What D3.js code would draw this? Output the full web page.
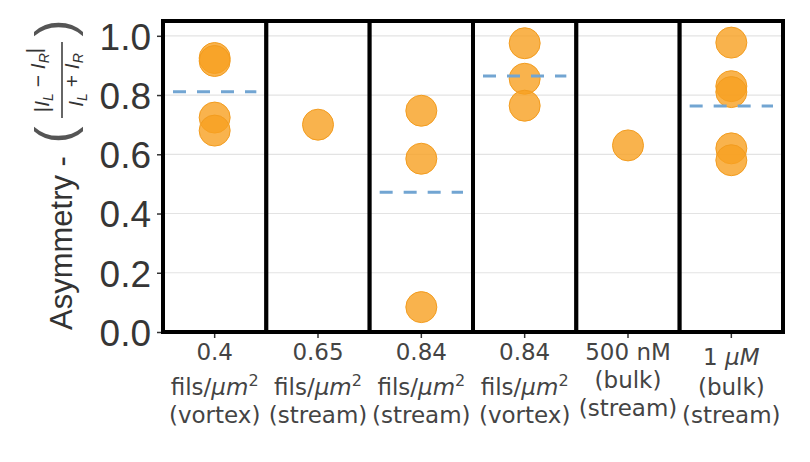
<!DOCTYPE html>
<html>
<head>
<meta charset="utf-8">
<script src="https://cdn.jsdelivr.net/npm/d3@7"></script>
<style>
  body { margin: 0; background: #fff; }
</style>
</head>
<body>
<div id="chart"></div>
<script>
//	Data: one group per panel
var groups = ["g1", "g2", "g3", "g4", "g5", "g6"];

var asymmetry = [
    [0.925, 0.915, 0.724, 0.68],
    [0.70],
    [0.747, 0.585, 0.084],
    [0.975, 0.855, 0.764],
    [0.63],
    [0.977, 0.83, 0.81, 0.62, 0.58]
];

var yTicks = [0, 0.2, 0.4, 0.6, 0.8, 1.0];

//	Label lines; each line is a list of [text, style] pieces
var labelLines = [
    [[["0.4", ""]], [["fils/", ""], ["μm", "it"], ["2", "sup"]], [["(vortex)", ""]]],
    [[["0.65", ""]], [["fils/", ""], ["μm", "it"], ["2", "sup"]], [["(stream)", ""]]],
    [[["0.84", ""]], [["fils/", ""], ["μm", "it"], ["2", "sup"]], [["(stream)", ""]]],
    [[["0.84", ""]], [["fils/", ""], ["μm", "it"], ["2", "sup"]], [["(vortex)", ""]]],
    [[["500 nM", ""]], [["(bulk)", ""]], [["(stream)", ""]]],
    [[["1 ", ""], ["μM", "it"]], [["(bulk)", ""]], [["(stream)", ""]]]
];

//	Baselines of the three label lines, per panel
var labelBaselines = [
    [360, 395, 423], [360, 395, 423], [360, 395, 423], [360, 395, 423],
    [360, 388, 416], [365, 395, 423]
];

var width = 810, height = 462;

var svg = d3.select("#chart")
    .append("svg")
    .attr("width", width)
    .attr("height", height);

var x = d3.scaleBand()
    .domain(groups)
    .range([163, 783])
    .paddingInner(0)
    .paddingOuter(0);

var y = d3.scaleLinear()
    .domain([0, 1.05])
    .range([332, 21]);

//	Panels
var panel = svg.append("g").selectAll(".panel")
    .data(groups)
    .enter().append("g")
    .attr("class", "panel")
    .attr("transform", function(d) { return "translate(" + x(d) + ",0)"; });

panel.append("rect")
    .attr("x", 0)
    .attr("y", y.range()[1])
    .attr("width", x.bandwidth())
    .attr("height", y.range()[0] - y.range()[1])
    .attr("fill", "#fff");

//	Horizontal gridlines
panel.selectAll(".grid")
    .data(yTicks)
    .enter().append("line")
    .attr("x1", 0)
    .attr("x2", x.bandwidth())
    .attr("y1", function(d) { return y(d); })
    .attr("y2", function(d) { return y(d); })
    .style("stroke", "#e3e3e3")
    .style("stroke-width", 1.2);

//	Points
panel.each(function(g, i) {
    var p = d3.select(this);
    var cx = x.bandwidth() / 2;

    p.selectAll("circle")
        .data(asymmetry[i])
        .enter().append("circle")
        .attr("cx", cx)
        .attr("cy", function(d) { return y(d); })
        .attr("r", 15.5)
        .attr("fill", "#f7a021")
        .attr("fill-opacity", 0.8)
        .style("stroke", "#f39c1e")
        .style("stroke-width", 1);

    //	Mean line only where there is more than one point
    if (asymmetry[i].length > 1) {
        var m = d3.mean(asymmetry[i]);
        p.append("line")
            .attr("x1", 10)
            .attr("x2", x.bandwidth() - 10)
            .attr("y1", y(m))
            .attr("y2", y(m))
            .style("stroke", "#72a5d2")
            .style("stroke-width", 3)
            .style("stroke-dasharray", "13,11");
    }
});

//	Panel borders on top
panel.append("rect")
    .attr("x", 0)
    .attr("y", y.range()[1])
    .attr("width", x.bandwidth())
    .attr("height", y.range()[0] - y.range()[1])
    .attr("fill", "none")
    .style("stroke", "#000")
    .style("stroke-width", 4);

//	Y axis
var yAxis = svg.append("g")
    .attr("transform", "translate(161,0)")
    .call(d3.axisLeft(y).tickValues(yTicks).tickFormat(d3.format(".1f")).tickSize(4).tickPadding(6));

yAxis.select(".domain").remove();
yAxis.selectAll(".tick line").style("stroke", "#333").style("stroke-width", 1.5);
yAxis.selectAll(".tick text")
    .style("font-family", "'Liberation Sans', Arial, sans-serif")
    .style("font-size", "37px")
    .style("fill", "#363636")
    .attr("dy", "0.36em");

//	X ticks
svg.append("g").selectAll(".xtick")
    .data(groups)
    .enter().append("line")
    .attr("x1", function(d) { return x(d) + x.bandwidth() / 2; })
    .attr("x2", function(d) { return x(d) + x.bandwidth() / 2; })
    .attr("y1", 334)
    .attr("y2", 338)
    .style("stroke", "#333")
    .style("stroke-width", 1.5);

//	X labels
var xl = svg.append("g").selectAll(".xlab")
    .data(groups)
    .enter().append("g")
    .attr("class", "xlab");

xl.each(function(g, i) {
    var grp = d3.select(this);
    var cx = x(g) + x.bandwidth() / 2;
    labelLines[i].forEach(function(line, j) {
        var t = grp.append("text")
            .attr("x", cx)
            .attr("y", labelBaselines[i][j])
            .attr("text-anchor", "middle")
            .style("font-family", "'DejaVu Sans', sans-serif")
            .style("font-size", "23px")
            .style("fill", "#444");
        line.forEach(function(piece) {
            var s = t.append("tspan").text(piece[0]);
            if (piece[1] == "it") s.style("font-style", "italic");
            if (piece[1] == "sup") s.attr("dy", "-0.55em").style("font-size", "16px");
        });
    });
});

//	Y title with fraction
var yt = svg.append("g")
    .attr("transform", "translate(60,330) rotate(-90)")
    .style("fill", "#333")
    .style("font-family", "'Liberation Sans', Arial, sans-serif");

yt.append("text")
    .attr("x", 0)
    .attr("y", 12)
    .style("font-size", "31px")
    .text("Asymmetry -");

yt.append("text")
    .attr("x", 195)
    .attr("y", 12)
    .attr("text-anchor", "middle")
    .style("font-size", "51px")
    .style("fill", "#555")
    .text("(");

yt.append("text")
    .attr("x", 302)
    .attr("y", 12)
    .attr("text-anchor", "middle")
    .style("font-size", "51px")
    .style("fill", "#555")
    .text(")");

var num = yt.append("text")
    .attr("x", 250)
    .attr("y", -11)
    .attr("text-anchor", "middle")
    .style("font-size", "21px");
num.append("tspan").text("|");
num.append("tspan").style("font-style", "italic").text("I");
num.append("tspan").attr("dy", "0.25em").style("font-size", "14px").style("font-style", "italic").text("L");
num.append("tspan").attr("dy", "-0.35em").text(" − ");
num.append("tspan").style("font-style", "italic").text("I");
num.append("tspan").attr("dy", "0.25em").style("font-size", "14px").style("font-style", "italic").text("R");
num.append("tspan").attr("dy", "-0.35em").text("|");

var den = yt.append("text")
    .attr("x", 250)
    .attr("y", 23)
    .attr("text-anchor", "middle")
    .style("font-size", "21px");
den.append("tspan").style("font-style", "italic").text("I");
den.append("tspan").attr("dy", "0.25em").style("font-size", "14px").style("font-style", "italic").text("L");
den.append("tspan").attr("dy", "-0.35em").text(" + ");
den.append("tspan").style("font-style", "italic").text("I");
den.append("tspan").attr("dy", "0.25em").style("font-size", "14px").style("font-style", "italic").text("R");

yt.append("line")
    .attr("x1", 212)
    .attr("x2", 288)
    .attr("y1", 2)
    .attr("y2", 2)
    .style("stroke", "#333")
    .style("stroke-width", 1.5);
</script>
</body>
</html>
